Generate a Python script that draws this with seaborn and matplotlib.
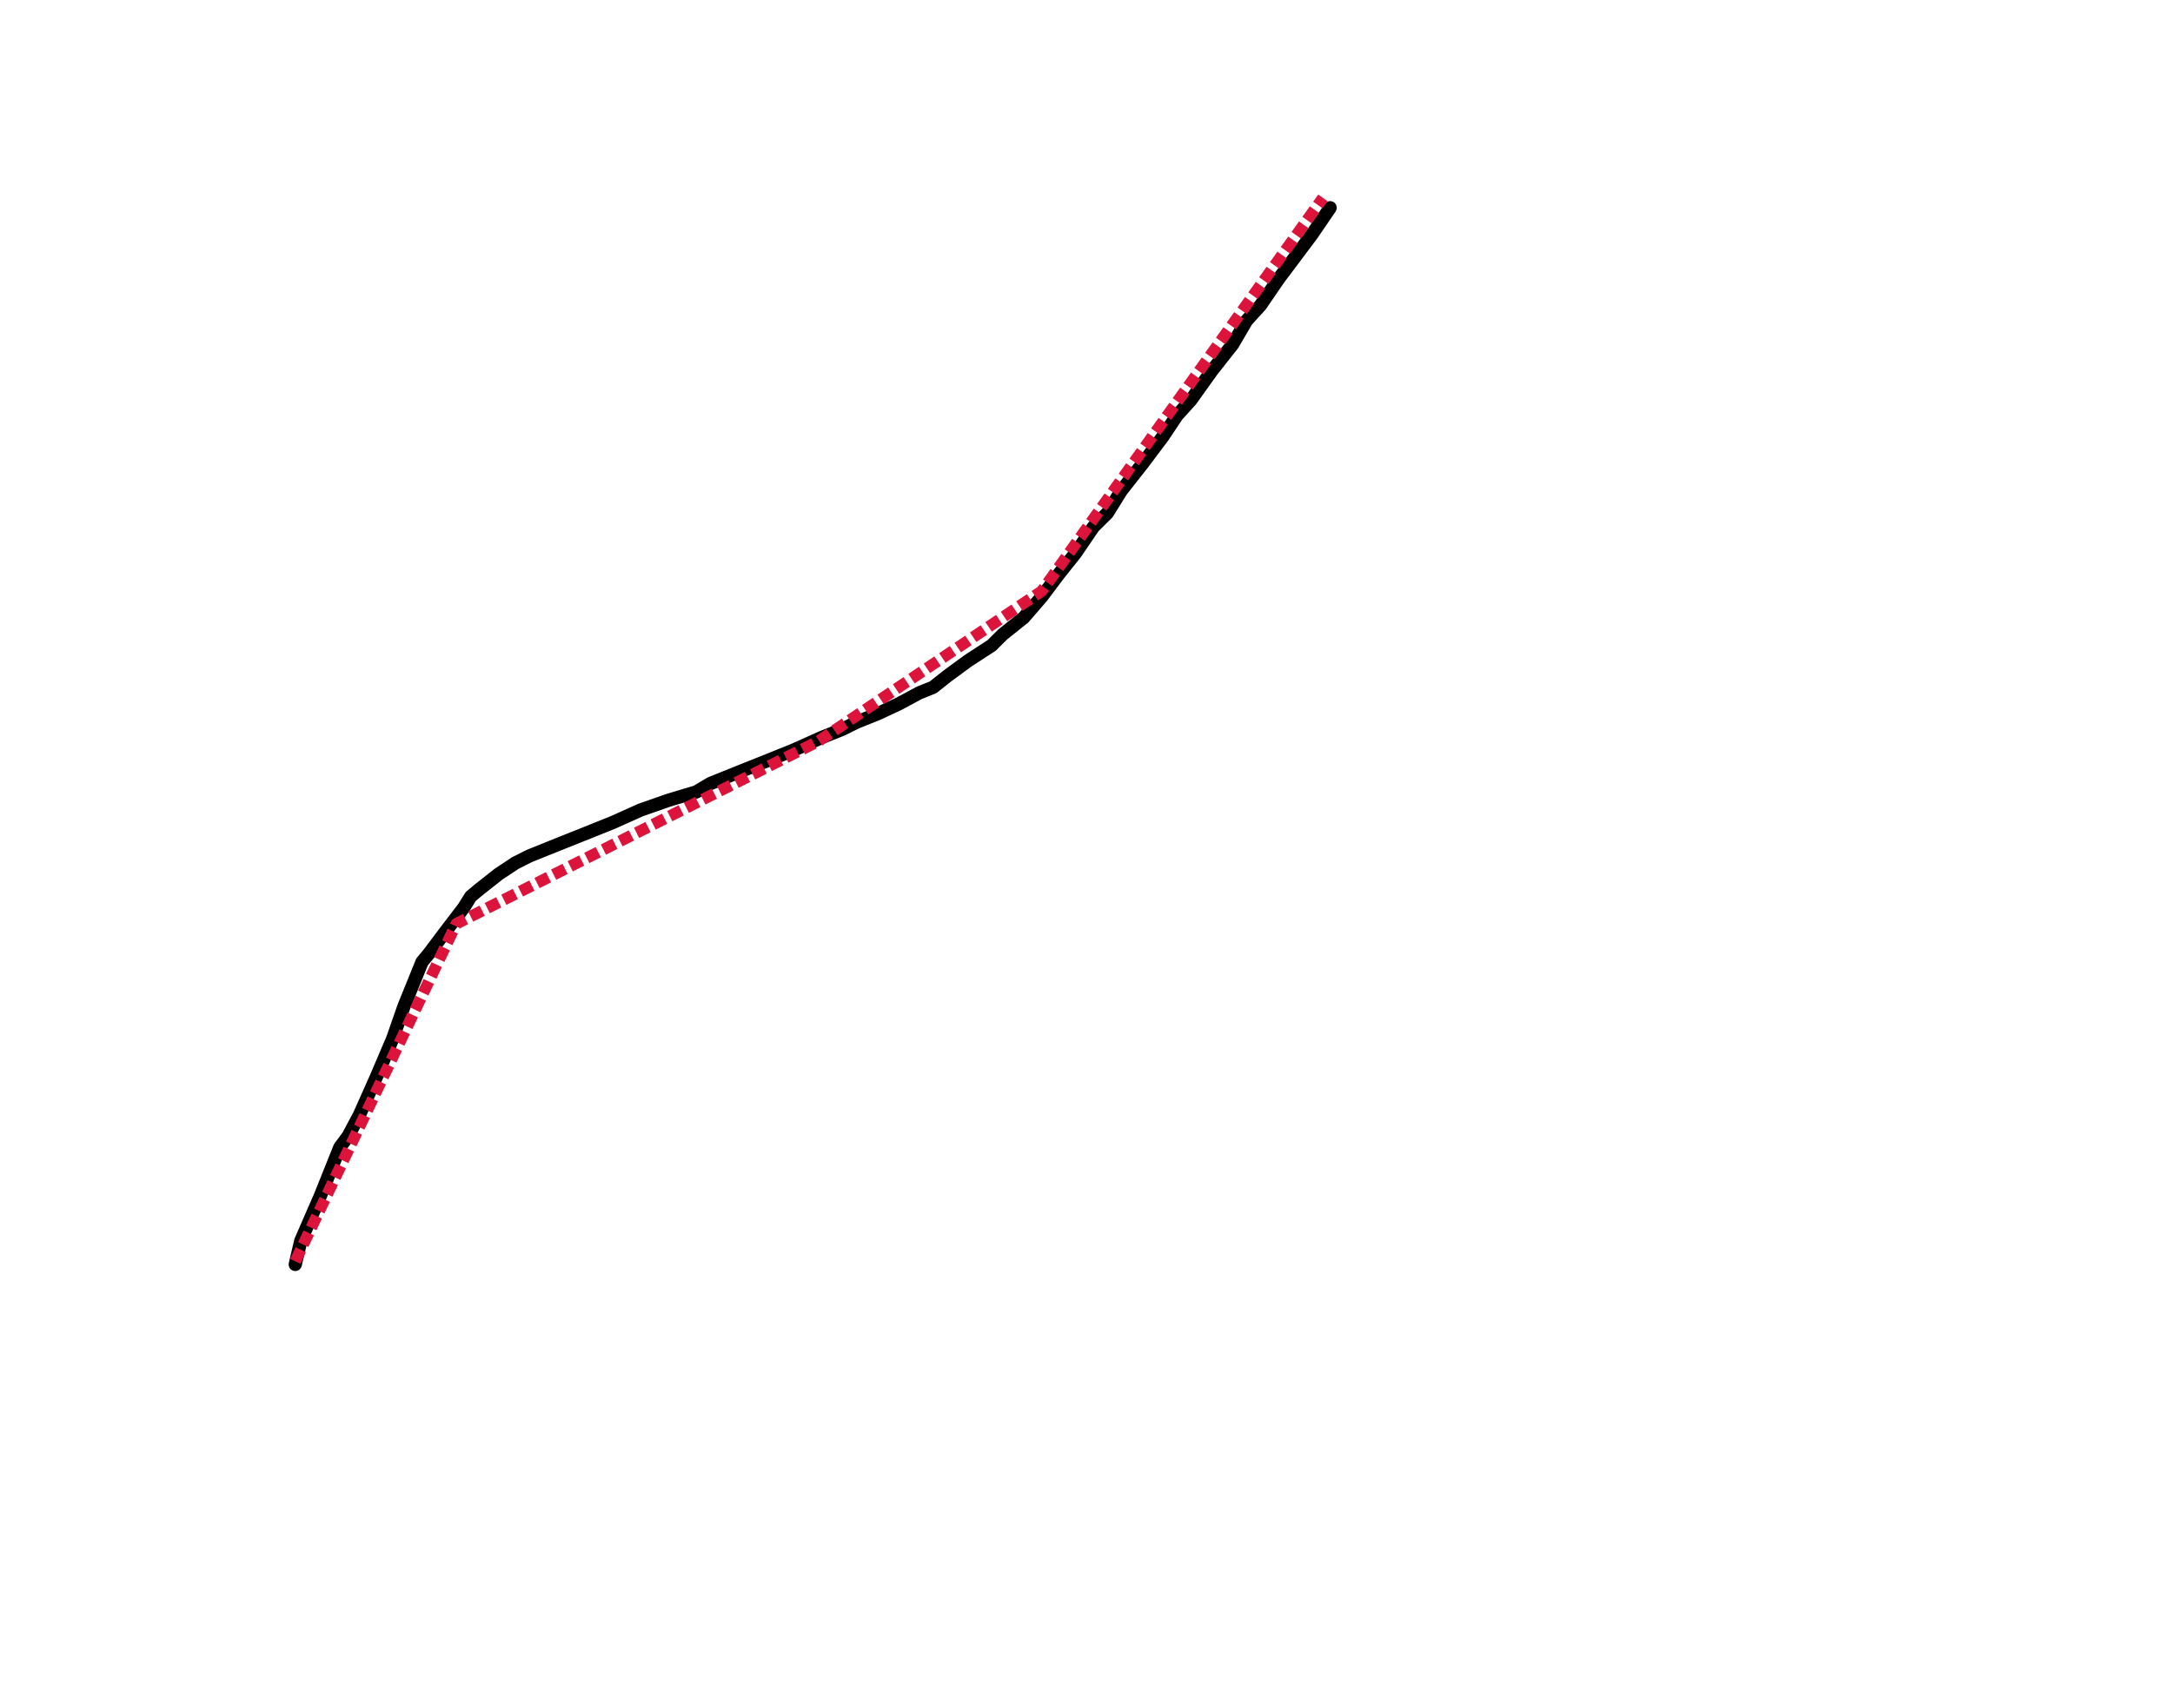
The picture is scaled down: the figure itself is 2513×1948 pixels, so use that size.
import matplotlib
matplotlib.use("Agg")
import matplotlib.pyplot as plt
import seaborn as sns
import pandas as pd

# observed series
x_obs = [0, 0.54, 2.42, 4.31, 5.11, 6.19, 7.81, 9.42, 10.50, 12.25, 12.92, 14.54,
         16.29, 16.96, 17.77, 19.65, 21.27, 22.61, 25.30, 27.99, 30.69, 33.38,
         36.07, 38.76, 40.11, 42.80, 45.49, 48.18, 50.87, 52.89, 54.24, 56.26,
         58.28, 60.30, 61.64, 62.99, 65.01, 67.29, 68.37, 70.39, 72.14, 73.76,
         75.37, 77.12, 78.47, 79.81, 81.83, 83.85, 85.20, 86.54, 88.56, 90.58,
         91.92, 93.27, 95.02, 96.64, 98.25, 100.0]
y_obs = [0, 2.24, 6.46, 11.07, 12.12, 14.10, 17.65, 21.34, 24.37, 28.59, 29.38, 31.49,
         33.73, 34.78, 35.44, 36.89, 37.94, 38.60, 39.66, 40.71, 41.77, 42.95,
         43.87, 44.66, 45.45, 46.51, 47.56, 48.62, 49.80, 50.59, 51.25, 52.04,
         52.96, 54.02, 54.55, 55.60, 57.05, 58.50, 59.55, 61.13, 63.11, 65.22,
         67.19, 69.70, 71.01, 73.12, 75.63, 78.26, 80.24, 81.69, 84.45, 86.96,
         89.20, 90.65, 93.15, 95.26, 97.36, 99.87]

# piecewise linear fit (breakpoints)
x_fit = [0.0, 15.56, 50.57, 72.14, 99.3]
y_fit = [0.3, 32.2, 49.46, 63.64, 100.8]

obs = pd.DataFrame({"x": x_obs, "y": y_obs})
fit = pd.DataFrame({"x": x_fit, "y": y_fit})

fig = plt.figure(figsize=(2513 / 250, 1948 / 250), dpi=250)
ax = fig.add_axes([0.125, 0.11, 0.775, 0.77])

sns.lineplot(data=obs, x="x", y="y", ax=ax, color="black", linewidth=4.4,
             estimator=None, sort=False, solid_capstyle="round",
             solid_joinstyle="round", clip_on=False)
sns.lineplot(data=fit, x="x", y="y", ax=ax, color="#DC143C", linewidth=3.8,
             estimator=None, sort=False, dashes=False, clip_on=False)
ax.lines[-1].set_dashes((1.12, 0.5))
ax.lines[-1].set_dash_capstyle("butt")

ax.set_xlim(-2.15, 161.4)
ax.set_ylim(-22.9, 100.3)
ax.set_axis_off()

fig.savefig("out.png", dpi=250, facecolor="white")
